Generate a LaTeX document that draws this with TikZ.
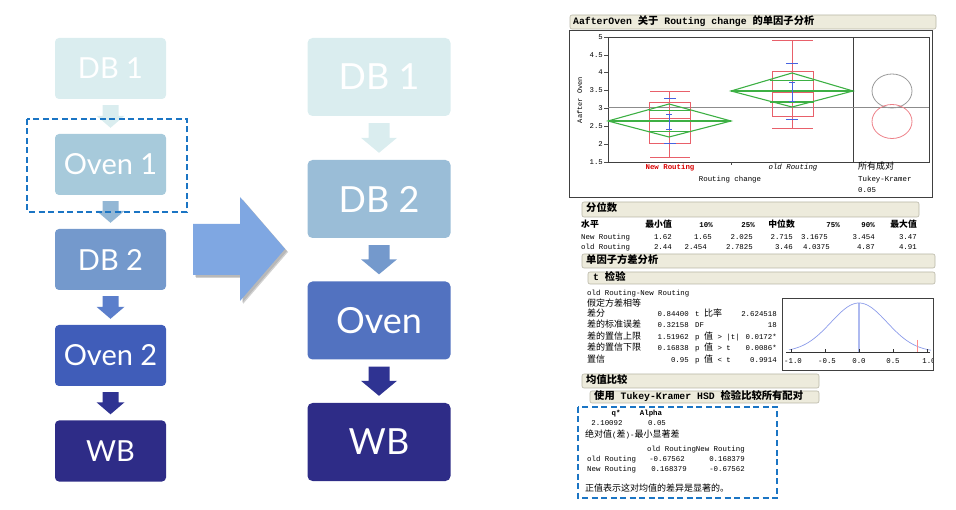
\documentclass[tikz,border=0pt]{standalone}
\usepackage{fontspec}
\usetikzlibrary{calc}
\newfontfamily\lato{Lato}
\newfontfamily\lmono{Liberation Mono}
\newfontfamily\cjk{Noto Sans CJK SC}
\newcommand{\xtm}[1]{{\lmono\fontsize{7.4}{9}\selectfont #1}}
\newcommand{\xtz}[1]{{\cjk\fontsize{9}{10}\selectfont #1}}
\newcommand{\xhm}[1]{{\lmono\bfseries\fontsize{9.8}{11}\selectfont #1}}
\newcommand{\xhz}[1]{{\cjk\bfseries\fontsize{10.3}{12}\selectfont #1}}
\newcommand{\blockarr}[7]{%
  \fill[#3] let \p1=(#1.south), \p2=(#2.north) in
  (\x1-#4,\y1-#7) -- (\x1+#4,\y1-#7) -- (\x1+#4,\y2+#7+#6) -- (\x1+#5,\y2+#7+#6)
  -- (\x1,\y2+#7) -- (\x1-#5,\y2+#7+#6) -- (\x1-#4,\y2+#7+#6) -- cycle;}
\definecolor{c1}{HTML}{DAEDEF}
\definecolor{c2}{HTML}{A7CADB}
\definecolor{a2}{HTML}{93B7D5}
\definecolor{c3}{HTML}{7499CC}
\definecolor{a3}{HTML}{5B7ECB}
\definecolor{c4}{HTML}{405DB9}
\definecolor{a4}{HTML}{2F3392}
\definecolor{c5}{HTML}{2E2C87}
\definecolor{rc2}{HTML}{9ABDD7}
\definecolor{rc3}{HTML}{5272C0}
\definecolor{bigarr}{HTML}{7FA7E2}
\definecolor{dashblue}{HTML}{1B75C4}
\definecolor{barfill}{HTML}{EDEBDC}
\definecolor{barline}{HTML}{B8B6A6}
\definecolor{jred}{HTML}{E8606A}
\definecolor{jgreen}{HTML}{3DB044}
\definecolor{jblue}{HTML}{4763E0}
\definecolor{curveblue}{HTML}{8C9CEA}
\tikzset{
  lbox/.style={rounded corners=4pt, minimum width=111pt, minimum height=61pt, inner sep=0pt, text=white, font=\lato\fontsize{29}{34}\selectfont},
  rbox/.style={rounded corners=5pt, minimum width=143pt, minimum height=78pt, inner sep=0pt, text=white, font=\lato\fontsize{36}{42}\selectfont},
  bar/.style={rounded corners=2pt, fill=barfill, draw=barline, line width=0.6pt},
  dashbox/.style={draw=dashblue, line width=2.2pt, dash pattern=on 6pt off 3.5pt},
  tw/.style={inner sep=0pt, anchor=mid west},
  te/.style={inner sep=0pt, anchor=mid east},
  tc/.style={inner sep=0pt, anchor=mid},
  frame/.style={draw=black!75, line width=0.7pt},
  rl/.style={draw=jred, line width=0.8pt},
  gl/.style={draw=jgreen, line width=1.1pt},
  bl/.style={draw=jblue, line width=0.8pt},
}
\begin{document}
\begin{tikzpicture}[x=1pt,y=-1pt]
\useasboundingbox (0,0) rectangle (956,510);
% ---------- left flow
\node[lbox, fill=c1] (L1) at (110.5,68.5) {DB 1};
\node[lbox, fill=c2] (L2) at (110.5,164.5) {Oven 1};
\node[lbox, fill=c3] (L3) at (110.5,259.5) {DB 2};
\node[lbox, fill=c4] (L4) at (110.5,355.5) {Oven 2};
\node[lbox, fill=c5] (L5) at (110.5,451) {WB};
\blockarr{L1}{L2}{c1}{8pt}{14pt}{12pt}{6pt}
\blockarr{L2}{L3}{a2}{8pt}{14pt}{12pt}{6pt}
\blockarr{L3}{L4}{a3}{8pt}{14pt}{12pt}{6pt}
\blockarr{L4}{L5}{a4}{8pt}{14pt}{12pt}{6pt}
\draw[dashbox] (27,119) rectangle (187,212);
% ---------- big arrow
\fill[black, opacity=0.18] (196,227) -- (243,227) -- (243,200) -- (288,252) -- (243,304) -- (243,278) -- (196,278) -- cycle;
\fill[black, opacity=0.12] (195,226) -- (242,226) -- (242,199) -- (287,251) -- (242,303) -- (242,277) -- (195,277) -- cycle;
\fill[bigarr] (193,224) -- (240,224) -- (240,197) -- (285,249) -- (240,301) -- (240,275) -- (193,275) -- cycle;
% ---------- right flow
\node[rbox, fill=c1] (R1) at (379,77) {DB 1};
\node[rbox, fill=rc2] (R2) at (379,199) {DB 2};
\node[rbox, fill=rc3] (R3) at (379,320.5) {Oven};
\node[rbox, fill=c5] (R4) at (379,442) {WB};
\blockarr{R1}{R2}{c1}{10.5pt}{18pt}{15pt}{7pt}
\blockarr{R2}{R3}{c3}{10.5pt}{18pt}{15pt}{7pt}
\blockarr{R3}{R4}{a4}{10.5pt}{18pt}{15pt}{7pt}
% ---------- JMP: one-way plot
\draw[bar] (570,15) rectangle (936,29);
\node[tw] (title) at (573,22) {\xhm{AafterOven }\xhz{关于}\xhm{ Routing change }\xhz{的单因子分析}};
\draw[frame] (569,30) rectangle (932,197);
\draw[frame] (608,37) rectangle (929,162);
\draw[frame] (853,37) -- (853,162);
\foreach \v/\yy in {5/37,4.5/54.86,4/72.71,3.5/90.57,3/108.43,2.5/126.29,2/144.14,1.5/162}{
  \draw[black!70, line width=0.5pt] (604,\yy) -- (608,\yy);
  \node[te, font=\lmono\fontsize{7.3}{8}\selectfont] (yt\v) at (603,\yy) {\v};
}
\draw[black!70, line width=0.5pt] (731,162) -- (731,165);
\node[tc, rotate=90, font=\lmono\fontsize{7}{8}\selectfont] (ytitle) at (580,100) {Aafter Oven};
\draw[black!45, line width=0.6pt] (608,107) -- (929,107);
% New Routing group
\draw[rl] (649,102.4) rectangle (690,143.2);
\draw[rl] (649,118.6) -- (690,118.6);
\draw[rl] (669,91.6) -- (669,157.7);
\draw[rl] (650,91.6) -- (690,91.6);
\draw[rl] (650,157.7) -- (690,157.7);
\draw[gl] (608,121) -- (669,104) -- (731,121) -- (669,137) -- cycle;
\draw[gl] (608,121) -- (731,121);
\draw[gl] (648.5,110.5) -- (690,110.5);
\draw[gl] (648.5,131.5) -- (690,131.5);
\draw[bl] (664,98) -- (676,98);
\draw[bl] (664,143) -- (676,143);
\draw[bl] (669,114) -- (669,129);
\draw[bl] (666,114) -- (672,114);
\draw[bl] (666,129) -- (672,129);
% old Routing group
\draw[rl] (772,71.4) rectangle (813,116.2);
\draw[rl] (772,92) -- (813,92);
\draw[rl] (792,40.2) -- (792,128.4);
\draw[rl] (772,40.2) -- (813,40.2);
\draw[rl] (772,128.4) -- (813,128.4);
\draw[gl] (731,91) -- (792,73) -- (853,91) -- (792,107) -- cycle;
\draw[gl] (731,91) -- (853,91);
\draw[gl] (770,80.5) -- (814,80.5);
\draw[gl] (770,102) -- (814,102);
\draw[bl] (786,63) -- (798,63);
\draw[bl] (786,119) -- (798,119);
\draw[bl] (792,82) -- (792,101);
\draw[bl] (789,82) -- (795,82);
\draw[bl] (789,101) -- (795,101);
% comparison circles
\draw[black!40, line width=0.8pt] (892,91) ellipse [x radius=20, y radius=17];
\draw[jred!80, line width=0.8pt] (892,121.5) ellipse [x radius=20, y radius=17];
\node[tc, text=red!85!black, font=\lmono\bfseries\fontsize{7.4}{9}\selectfont] (xl1) at (670,167) {New Routing};
\node[tc, font=\lmono\itshape\fontsize{7.4}{9}\selectfont] (xl2) at (793,167) {old Routing};
\node[tc, font=\lmono\fontsize{7.4}{9}\selectfont] (xt) at (730,179) {Routing change};
\node[tw] (cc1) at (858,167) {\xtz{所有成对}};
\node[tw, font=\lmono\fontsize{7.4}{9}\selectfont] (cc2) at (858,179) {Tukey-Kramer};
\node[tw, font=\lmono\fontsize{7.4}{9}\selectfont] (cc3) at (858,190) {0.05};
% ---------- quantiles
\draw[bar] (582,202) rectangle (919,217);
\node[tw] (q0) at (586,209.5) {\xhz{分位数}};
\node[tw] (qh0) at (581,225) {{\cjk\bfseries\fontsize{8.8}{10}\selectfont 水平}};
\foreach \t/\xx/\n in {最小值/672/1,中位数/795/2,最大值/917/3}{
  \node[te] (qz\n) at (\xx,225) {{\cjk\bfseries\fontsize{8.8}{10}\selectfont \t}};}
\foreach \t/\xx/\n in {10\%/713/1,25\%/755/2,75\%/840/3,90\%/875/4}{
  \node[te, font=\lmono\bfseries\fontsize{7.4}{9}\selectfont] (qp\n) at (\xx,225) {\t};}
\node[tw, font=\lmono\fontsize{7.4}{9}\selectfont] (qr1) at (581,237) {New Routing};
\node[tw, font=\lmono\fontsize{7.4}{9}\selectfont] (qr2) at (581,247) {old Routing};
\foreach \t/\xx/\n in {1.62/672/1,1.65/712/2,2.025/753/3,2.715/793/4,3.1675/828/5,3.454/875/6,3.47/917/7}{
  \node[te, font=\lmono\fontsize{7.4}{9}\selectfont] (qa\n) at (\xx,237) {\t};}
\foreach \t/\xx/\n in {2.44/672/1,2.454/707/2,2.7825/753/3,3.46/793/4,4.0375/830/5,4.87/875/6,4.91/917/7}{
  \node[te, font=\lmono\fontsize{7.4}{9}\selectfont] (qb\n) at (\xx,247) {\t};}
% ---------- anova / t test
\draw[bar] (582,254) rectangle (935,268);
\node[tw] (an) at (586,261) {\xhz{单因子方差分析}};
\draw[bar] (588,272) rectangle (935,284);
\node[tw] (tt) at (593,278) {\xhm{t }\xhz{检验}};
\node[tw, font=\lmono\fontsize{7.4}{9}\selectfont] (tl0) at (587,293) {old Routing-New Routing};
\node[tw] (tl1) at (587,304) {\xtz{假定方差相等}};
\foreach \t/\yy/\n in {差分/314/1,差的标准误差/325.5/2,差的置信上限/337/3,差的置信下限/348.5/4,置信/360/5}{
  \node[tw] (tk\n) at (587,\yy) {\xtz{\t}};}
\foreach \t/\yy/\n in {0.84400/314/1,0.32158/325.5/2,1.51962/337/3,0.16838/348.5/4,0.95/360/5}{
  \node[te, font=\lmono\fontsize{7.4}{9}\selectfont] (tv\n) at (689,\yy) {\t};}
\node[tw] (tm1) at (695,314) {\xtm{t }\xtz{比率}};
\node[tw] (tm2) at (695,325.5) {\xtm{DF}};
\node[tw] (tm3) at (695,337) {\xtm{p }\xtz{值}\xtm{ > |t|}};
\node[tw] (tm4) at (695,348.5) {\xtm{p }\xtz{值}\xtm{ > t}};
\node[tw] (tm5) at (695,360) {\xtm{p }\xtz{值}\xtm{ < t}};
\foreach \t/\yy/\n in {2.624518/314/1,18/325.5/2,0.0172*/337/3,0.0086*/348.5/4,0.9914/360/5}{
  \node[te, font=\lmono\fontsize{7.4}{9}\selectfont] (tr\n) at (777,\yy) {\t};}
% t plot
\begin{scope}
\clip (782,298) rectangle (933.4,370);
\draw[curveblue!70, line width=1.4pt] (859,303) -- (859,352);
\draw[curveblue, line width=0.7pt] plot[domain=-70:72, samples=80] ({859+\x},{352-49*exp(-(\x*\x)/(2*784))});
\draw[black!80, line width=0.6pt] (786,352) -- (930,352);
\foreach \xx in {791,825,859,893,927}{\draw[black!80, line width=0.5pt] (\xx,352) -- (\xx,349);}
\draw[red!45, line width=0.7pt] (917,340) -- (917,352);
\foreach \t/\xx/\n in {-1.0/793/1,-0.5/827/2,0.0/859/3,0.5/893/4,1.0/929/5}{
  \node[tc, font=\lmono\fontsize{7.4}{9}\selectfont] (ax\n) at (\xx,361) {\t};}
\end{scope}
\draw[frame] (782,298) rectangle (933,370);
% ---------- means comparison
\draw[bar] (582,374) rectangle (819,388);
\node[tw] (mc) at (586,381) {\xhz{均值比较}};
\draw[bar] (590,391) rectangle (819,403);
\node[tw] (tk) at (594,397) {\xhz{使用}\xhm{ Tukey-Kramer HSD }\xhz{检验比较所有配对}};
\draw[dashbox] (578,407) rectangle (777,498);
\node[tc, font=\lmono\bfseries\fontsize{7.4}{9}\selectfont] (qs) at (616,413) {q*};
\node[tc, font=\lmono\bfseries\fontsize{7.4}{9}\selectfont] (al) at (651,413) {Alpha};
\node[tc, font=\lmono\fontsize{7.4}{9}\selectfont] (qv) at (607,423) {2.10092};
\node[tc, font=\lmono\fontsize{7.4}{9}\selectfont] (av) at (657,423) {0.05};
\node[tw] (ab) at (585,435) {\xtz{绝对值}\xtm{(}\xtz{差}\xtm{)-}\xtz{最小显著差}};
\node[te, font=\lmono\fontsize{7.4}{9}\selectfont] (mh) at (745,449) {old RoutingNew Routing};
\node[tw, font=\lmono\fontsize{7.4}{9}\selectfont] (m1) at (587,459) {old Routing};
\node[te, font=\lmono\fontsize{7.4}{9}\selectfont] (m1a) at (685,459) {-0.67562};
\node[te, font=\lmono\fontsize{7.4}{9}\selectfont] (m1b) at (745,459) {0.168379};
\node[tw, font=\lmono\fontsize{7.4}{9}\selectfont] (m2) at (587,469) {New Routing};
\node[te, font=\lmono\fontsize{7.4}{9}\selectfont] (m2a) at (687,469) {0.168379};
\node[te, font=\lmono\fontsize{7.4}{9}\selectfont] (m2b) at (745,469) {-0.67562};
\node[tw] (note) at (585,489) {\xtz{正值表示这对均值的差异是显著的。}};
\end{tikzpicture}
\end{document}
